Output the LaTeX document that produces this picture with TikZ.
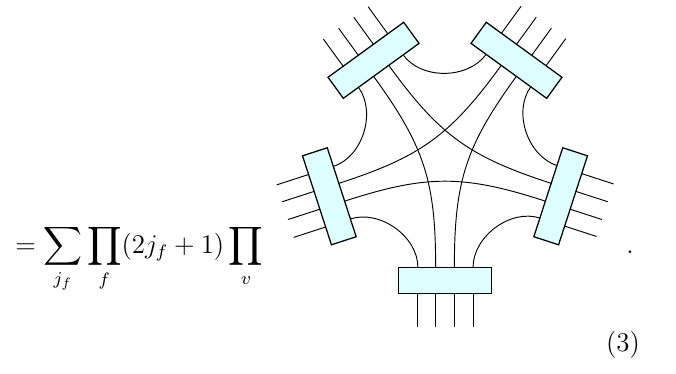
\documentclass[tikz,border=0pt]{standalone}
\usepackage{amsmath}
\usetikzlibrary{calc}
\definecolor{boxfill}{RGB}{222,255,255}

\begin{document}
\begin{tikzpicture}[
    x=0.48pt, y=0.48pt,
    vertexbox/.style={draw, line width=0.6pt, fill=boxfill, inner sep=0pt,
        outer sep=0pt, minimum width=44.9pt, minimum height=12.5pt},
    strand/.style={line width=0.45pt},
    formula/.style={inner sep=0pt, font=\fontsize{12}{14}\selectfont,
        scale=1.08, transform shape},
]
    \useasboundingbox (-445,158.7) rectangle (231,-214.3);

    % Vertex boxes
    \foreach \i in {0,...,4} {
        \pgfmathsetmacro{\rot}{72*\i}
        \node[vertexbox, rotate=\rot] (v\i) at (\rot-90:121.6) {};
        \foreach \f/\k in {0.21/1, 0.4/2, 0.6/3, 0.8/4} {
            \coordinate (in\i-\k) at ($(v\i.north west)!\f!(v\i.north east)$);
            \coordinate (out\i-\k) at ($(v\i.south west)!\f!(v\i.south east)$);
            \coordinate (end\i-\k) at ($(out\i-\k)+(\rot-90:33.5)$);
            \draw[strand] (out\i-\k) -- (end\i-\k);
        }
    }

    % Strands between the boxes
    \foreach \i in {0,...,4} {
        \pgfmathtruncatemacro{\prev}{mod(\i+4,5)}
        \pgfmathtruncatemacro{\far}{mod(\i+2,5)}
        \pgfmathsetmacro{\aout}{72*\i+90}
        \pgfmathsetmacro{\aprev}{72*\prev+90}
        \pgfmathsetmacro{\afar}{72*\far+90}
        \draw[strand] (in\i-1) to[out=\aout, in=\aprev, looseness=0.95] (in\prev-4);
        \draw[strand] (in\i-3) to[out=\aout, in=\afar, looseness=1.1] (in\far-2);
    }

    % Formula
    \node[formula, anchor=base west] (sumprod) at (-430,-94.8)
        {$\displaystyle = \sum_{j_f} \prod_f (2j_f+1) \prod_v$};
    \node[formula, anchor=base] (stop) at (185,-94.3) {.};
    \node[formula] (eqno) at (178,-186) {(3)};
\end{tikzpicture}
\end{document}
